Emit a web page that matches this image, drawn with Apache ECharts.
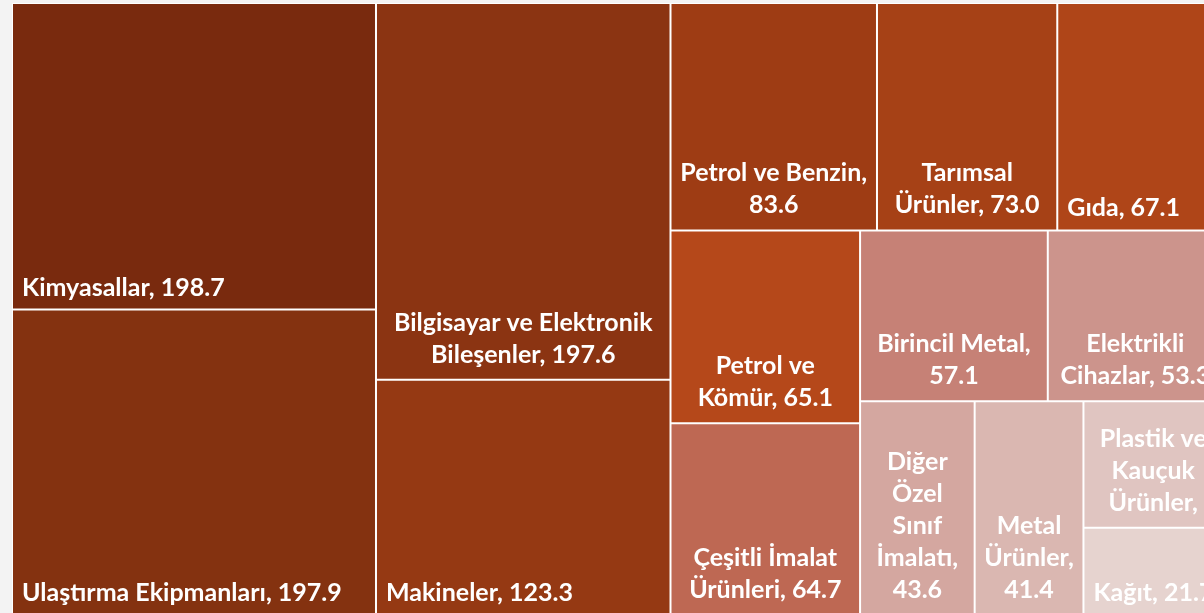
<!DOCTYPE html>
<html>
<head>
<meta charset="utf-8">
<script src="https://cdn.jsdelivr.net/npm/echarts@6/dist/echarts.min.js"></script>
<style>
  html, body { margin: 0; padding: 0; background: #f3f3f3; }
  #sectorChart { width: 1204px; height: 613px; }
</style>
</head>
<body>
<div id="sectorChart"></div>
<script>
// sektörler ve değerleri
const sectors = [
  'Kimyasallar', 'Ulaştırma Ekipmanları', 'Bilgisayar ve Elektronik Bileşenler',
  'Makineler', 'Petrol ve Benzin', 'Tarımsal Ürünler', 'Gıda', 'Petrol ve Kömür',
  'Çeşitli İmalat Ürünleri', 'Birincil Metal', 'Elektrikli Cihazlar',
  'Diğer Özel Sınıf İmalatı', 'Metal Ürünler', 'Plastik ve Kauçuk Ürünler', 'Kağıt'
];
const values = [198.7, 197.9, 197.6, 123.3, 83.6, 73.0, 67.1, 65.1, 64.7, 57.1, 53.3, 43.6, 41.4, 31.4, 21.7];

const tileColors = [
  '#792a0e', '#843210', '#8b3412', '#953913', '#9e3c14', '#a64116', '#af4518',
  '#b5481a', '#be6853', '#c68176', '#cc948c', '#d4a7a0', '#dab7b1', '#e0c5c1', '#e6d3cf'
];

// etiket satırlarında kaç kelime var (listede olmayanlar tek satır, sola yaslı)
const lineWords = {
  'Bilgisayar ve Elektronik Bileşenler': [3, 2],
  'Petrol ve Benzin': [3, 1],
  'Tarımsal Ürünler': [1, 2],
  'Petrol ve Kömür': [2, 2],
  'Çeşitli İmalat Ürünleri': [2, 2],
  'Birincil Metal': [2, 1],
  'Elektrikli Cihazlar': [1, 2],
  'Diğer Özel Sınıf İmalatı': [1, 1, 1, 1, 1],
  'Metal Ürünler': [1, 1, 1],
  'Plastik ve Kauçuk Ürünler': [2, 1, 1, 1]
};

function wrapLabel(name, value) {
  let words = (name + ', ' + value.toFixed(1)).split(' ');
  let counts = lineWords[name];
  if (!counts) return words.join(' ');
  let lines = [];
  let k = 0;
  counts.forEach(c => {
    lines.push(words.slice(k, k + c).join(' '));
    k += c;
  });
  return lines.join('\n');
}

let chart = echarts.init(document.getElementById('sectorChart'));

const data = sectors.map((name, i) => {
  let item = {
    name: name,
    value: values[i],
    itemStyle: { color: tileColors[i] }
  };
  if (!lineWords[name]) {
    item.label = { position: 'insideBottomLeft', distance: 5, padding: [0, 0, 0, 4] };
  }
  return item;
});

chart.setOption({
  backgroundColor: '#f3f3f3',
  series: [
    {
      type: 'treemap',
      left: 12,
      top: 3,
      width: 1211,
      height: 612,
      roam: false,
      nodeClick: false,
      silent: true,
      squareRatio: 1,
      breadcrumb: { show: false },
      levels: [
        { itemStyle: { borderWidth: 0, gapWidth: 0 } },
        { itemStyle: { borderWidth: 1, borderColor: '#ffffff', gapWidth: 0 } }
      ],
      label: {
        show: true,
        position: 'insideBottom',
        distance: 8,
        padding: 0,
        color: '#ffffff',
        fontFamily: 'Lato',
        fontWeight: 'bold',
        fontSize: 25,
        lineHeight: 32,
        overflow: 'none',
        formatter: p => wrapLabel(p.name, p.value)
      },
      data: data
    }
  ]
});
</script>
</body>
</html>
